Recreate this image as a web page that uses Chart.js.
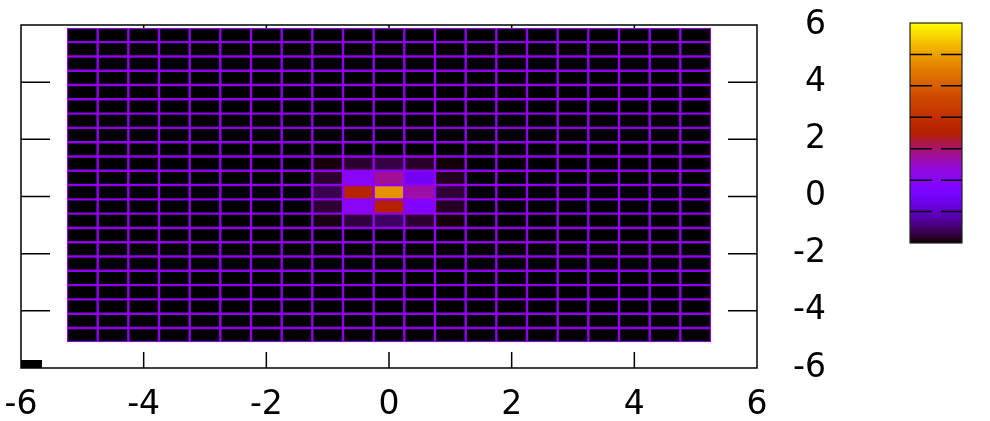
<!DOCTYPE html>
<html>
<head>
<meta charset="utf-8">
<script src="https://cdn.jsdelivr.net/npm/chart.js@4.4.1/dist/chart.umd.min.js"></script>
<style>
  html, body { margin: 0; padding: 0; background: #fff; }
</style>
</head>
<body>
<canvas id="map" width="990" height="421"></canvas>
<script>
// axis ticks
const xTicks = [-6, -4, -2, 0, 2, 4, 6];
const yTicks = [-6, -4, -2, 0, 2, 4, 6];

// colour box range and its tick marks
const cbMin = -1;
const cbMax = 6;
const cbTicks = [0, 1, 2, 3, 4, 5];

// cell centres of the map
const xCells = [-5, -4.5, -4, -3.5, -3, -2.5, -2, -1.5, -1, -0.5, 0,
                0.5, 1, 1.5, 2, 2.5, 3, 3.5, 4, 4.5, 5];
const yCells = [-4.85, -4.35, -3.85, -3.35, -2.85, -2.35, -1.85, -1.35, -0.85, -0.35, 0.15,
                0.65, 1.15, 1.65, 2.15, 2.65, 3.15, 3.65, 4.15, 4.65, 5.15, 5.65];

// everything away from the peak sits at the bottom of the scale
const background = -1;

// the peak region, rows listed top to bottom
const patchCols = [-1, -0.5, 0, 0.5, 1];
const patchRows = [1.15, 0.65, 0.15, -0.35, -0.85];
const patchValues = [
  [-0.95, -0.80, -0.70, -0.82, -0.98],
  [-0.80,  1.00,  1.80,  0.40, -0.88],
  [-0.65,  2.60,  4.80,  1.70, -0.75],
  [-0.78,  1.05,  2.50,  0.75, -0.85],
  [-0.93, -0.72, -0.56, -0.78, -0.96]
];

function valueAt(x, y) {
  const c = patchCols.indexOf(x);
  const r = patchRows.indexOf(y);
  if (c < 0 || r < 0) return background;
  return patchValues[r][c];
}

// gnuplot's default rgbformulae 7,5,15
function palette(v) {
  const t = Math.min(1, Math.max(0, (v - cbMin) / (cbMax - cbMin)));
  const r = Math.sqrt(t);
  const g = t * t * t;
  const b = Math.max(0, Math.sin(2 * Math.PI * t));
  return 'rgb(' + Math.round(r * 255) + ',' + Math.round(g * 255) + ',' + Math.round(b * 255) + ')';
}

const gridColor = '#9000ec';
const halfW = (xCells[1] - xCells[0]) / 2;
const halfH = (yCells[1] - yCells[0]) / 2;

// one floating-bar dataset per row of cells
const datasets = yCells.map(function(yc) {
  return {
    data: xCells.map(function(xc) {
      return { x: xc, y: [yc - halfH, yc + halfH], v: valueAt(xc, yc) };
    }),
    backgroundColor: function(ctx) { return palette(ctx.raw.v); },
    borderColor: gridColor,
    borderWidth: 1.2,
    borderSkipped: false,
    barPercentage: 1,
    categoryPercentage: 1,
    grouped: false,
    inflateAmount: 0
  };
});

const labelFont = { family: 'DejaVu Sans', size: 33 };

// black frame with inward tick marks, the little block in the corner,
// and a grid-coloured backing so the seams between cells stay violet
const framePlugin = {
  id: 'frame',
  beforeDatasetsDraw(chart) {
    const ctx = chart.ctx;
    const a = chart.chartArea;
    const xs = chart.scales.x;
    const ys = chart.scales.y;
    ctx.save();
    ctx.strokeStyle = '#000';
    ctx.lineWidth = 1.5;
    ctx.strokeRect(a.left, a.top, a.right - a.left, a.bottom - a.top);
    ctx.beginPath();
    yTicks.slice(1, -1).forEach(function(v) {
      const py = ys.getPixelForValue(v);
      ctx.moveTo(a.left, py); ctx.lineTo(a.left + 29, py);
      ctx.moveTo(a.right - 29, py); ctx.lineTo(a.right, py);
    });
    xTicks.slice(1, -1).forEach(function(v) {
      const px = xs.getPixelForValue(v);
      ctx.moveTo(px, a.bottom); ctx.lineTo(px, a.bottom - 16);
      ctx.moveTo(px, a.top); ctx.lineTo(px, a.top + 16);
    });
    ctx.stroke();
    ctx.fillStyle = '#000';
    ctx.fillRect(a.left, a.bottom - 8, 21, 8);

    const x0 = xs.getPixelForValue(xCells[0] - halfW);
    const x1 = xs.getPixelForValue(xCells[xCells.length - 1] + halfW);
    const y0 = ys.getPixelForValue(yCells[yCells.length - 1] + halfH);
    const y1 = ys.getPixelForValue(yCells[0] - halfH);
    ctx.fillStyle = gridColor;
    ctx.fillRect(x0 + 0.5, y0 + 0.5, x1 - x0 - 1, y1 - y0 - 1);
    ctx.restore();
  }
};

// colour box to the right of the plot
const colorBoxPlugin = {
  id: 'colorBox',
  afterDraw(chart) {
    const ctx = chart.ctx;
    const left = 910, top = 23, w = 52, h = 220;
    ctx.save();
    for (let i = 0; i < h; i++) {
      const v = cbMax - (i + 0.5) / h * (cbMax - cbMin);
      ctx.fillStyle = palette(v);
      ctx.fillRect(left, top + i, w, 1);
    }
    ctx.strokeStyle = '#000';
    ctx.lineWidth = 1.5;
    ctx.beginPath();
    cbTicks.forEach(function(v) {
      const py = top + (cbMax - v) / (cbMax - cbMin) * h;
      ctx.moveTo(left, py); ctx.lineTo(left + 22, py);
      ctx.moveTo(left + 31, py); ctx.lineTo(left + w, py);
    });
    ctx.stroke();
    ctx.strokeStyle = '#222';
    ctx.lineWidth = 1.2;
    ctx.strokeRect(left, top, w, h);
    ctx.restore();
  }
};

new Chart(document.getElementById('map'), {
  type: 'bar',
  data: { datasets: datasets },
  options: {
    responsive: false,
    devicePixelRatio: 1,
    animation: false,
    layout: { padding: { left: 21, top: 25, right: 164, bottom: 0 } },
    plugins: { legend: { display: false }, tooltip: { enabled: false } },
    scales: {
      x: {
        type: 'linear',
        min: -6,
        max: 6,
        offset: false,
        afterBuildTicks: function(s) { s.ticks = xTicks.map(function(v) { return { value: v }; }); },
        afterFit: function(s) { s.height = 53; s.paddingLeft = 0; s.paddingRight = 0; },
        grid: { display: false, drawTicks: false },
        border: { display: false },
        ticks: { font: labelFont, color: '#000', padding: 18, maxRotation: 0, autoSkip: false }
      },
      y: {
        type: 'linear',
        position: 'right',
        min: -6,
        max: 6,
        afterBuildTicks: function(s) { s.ticks = yTicks.map(function(v) { return { value: v }; }); },
        afterFit: function(s) { s.width = 69; s.paddingTop = 0; s.paddingBottom = 0; },
        grid: { display: false, drawTicks: false },
        border: { display: false },
        ticks: { font: labelFont, color: '#000', padding: 35, crossAlign: 'far', autoSkip: false }
      }
    }
  },
  plugins: [framePlugin, colorBoxPlugin]
});
</script>
</body>
</html>
